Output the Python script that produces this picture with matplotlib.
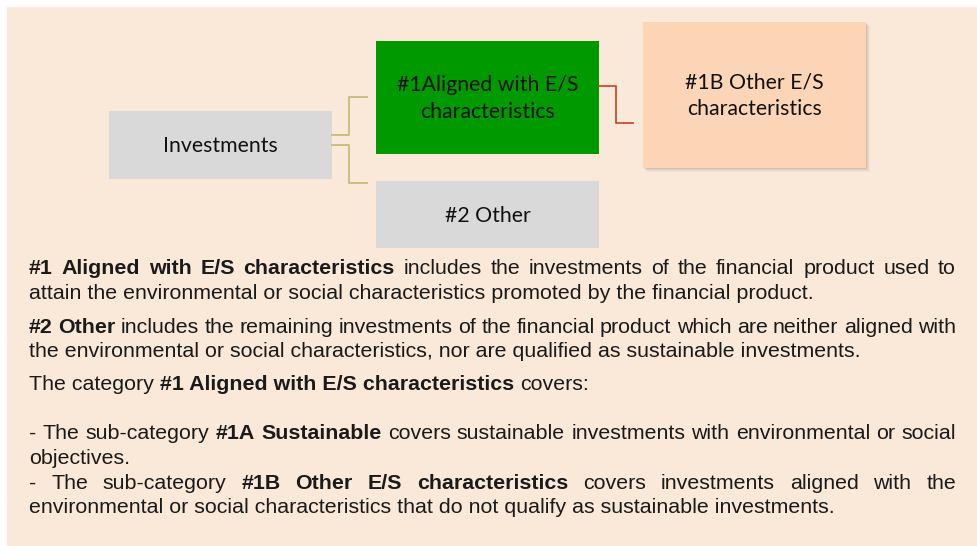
import matplotlib
matplotlib.use("Agg")
import matplotlib.pyplot as plt
from matplotlib.patches import Rectangle

# ---------------- content ----------------
box_labels = ["Investments", "#1Aligned with E/S\ncharacteristics", "#2 Other",
              "#1B Other E/S\ncharacteristics"]
box_colors = ["#D9D9D9", "#009900", "#D9D9D9", "#FBD5B5"]

para_lines = [
    ([("#1 Aligned with E/S characteristics", True),
      ("includes the investments of the financial product used to", False)], True),
    ([("attain the environmental or social characteristics promoted by the financial product.", False)], False),
    ([("#2 Other", True),
      ("includes the remaining investments of the financial product which are neither aligned with", False)], True),
    ([("the environmental or social characteristics, nor are qualified as sustainable investments.", False)], False),
    ([("The category", False), ("#1 Aligned with E/S characteristics", True), ("covers:", False)], False),
    ([("- The sub-category", False), ("#1A Sustainable", True),
      ("covers sustainable investments with environmental or social", False)], True),
    ([("objectives.", False)], False),
    ([("- The sub-category", False), ("#1B Other E/S characteristics", True),
      ("covers investments aligned with the", False)], True),
    ([("environmental or social characteristics that do not qualify as sustainable investments.", False)], False),
]

# ---------------- layout ----------------
W, H = 977, 546
fig = plt.figure(figsize=(W / 100, H / 100), dpi=100)
ax = fig.add_axes([0, 0, 1, 1])
ax.set_xlim(0, W)
ax.set_ylim(H, 0)
ax.axis("off")

BG = "#FAE8D8"
ax.add_patch(Rectangle((7, 7), W - 7, H - 7, color=BG, lw=0, zorder=0))

# boxes: (x0, y0, x1, y1)
box_pos = [(109, 111, 332, 179), (376, 41, 599, 154), (376, 181, 599, 248), (643, 22, 866, 168)]
BOX_FONT = "Lato"
BOX_SIZE = 15.3

# shadow for the #1B box
x0, y0, x1, y1 = box_pos[3]
for i, a in enumerate([0.10, 0.08, 0.06, 0.04]):
    d = 1 + i
    ax.add_patch(Rectangle((x0 + d, y0 + d), x1 - x0, y1 - y0, color="#555555",
                           alpha=a, lw=0, zorder=1))

for lab, col, (x0, y0, x1, y1) in zip(box_labels, box_colors, box_pos):
    ax.add_patch(Rectangle((x0, y0), x1 - x0, y1 - y0, color=col, lw=0, zorder=2))
    ax.text((x0 + x1) / 2, (y0 + y1) / 2 + 1, lab, ha="center", va="center",
            fontsize=BOX_SIZE, family=BOX_FONT, color="#111111",
            linespacing=1.42, zorder=3)

# connectors
gold = "#C9BA7C"
ax.plot([332, 349, 349, 367], [135, 135, 97, 97], color=gold, lw=1.3, zorder=2)
ax.plot([332, 349, 349, 367], [145, 145, 183, 183], color=gold, lw=1.3, zorder=2)
red = "#C8502F"
ax.plot([599, 616, 616, 633], [86, 86, 123, 123], color=red, lw=1.3, zorder=2)

# ---------------- paragraph text (with justification) ----------------
TXT_FONT = "Liberation Sans"
TXT_SIZE = 15.4
LEFT, RIGHT = 29, 956
baselines = [274, 299, 333, 357, 390, 439, 464, 489, 513]

fig.canvas.draw()
renderer = fig.canvas.get_renderer()


def width_of(s, bold):
    t = ax.text(0, 0, s, fontsize=TXT_SIZE, family=TXT_FONT,
                weight="bold" if bold else "normal")
    w = t.get_window_extent(renderer).width
    t.remove()
    return w


def put(x, y, s, bold):
    ax.text(x, y, s, fontsize=TXT_SIZE, family=TXT_FONT,
            weight="bold" if bold else "normal", color="#1A1A1A",
            ha="left", va="baseline", zorder=3)


space_w = width_of("x x", False) - width_of("xx", False)

for (runs, justify), yb in zip(para_lines, baselines):
    if justify:
        words = []
        for txt, bold in runs:
            for w in txt.split(" "):
                words.append((w, bold))
        widths = [width_of(w, b) for w, b in words]
        gap = (RIGHT - LEFT - sum(widths)) / (len(words) - 1)
        x = LEFT
        for (w, b), wd in zip(words, widths):
            put(x, yb, w, b)
            x += wd + gap
    else:
        x = LEFT
        for txt, bold in runs:
            put(x, yb, txt, bold)
            x += width_of(txt, bold) + space_w

fig.savefig("out.png", dpi=100, facecolor="white")
